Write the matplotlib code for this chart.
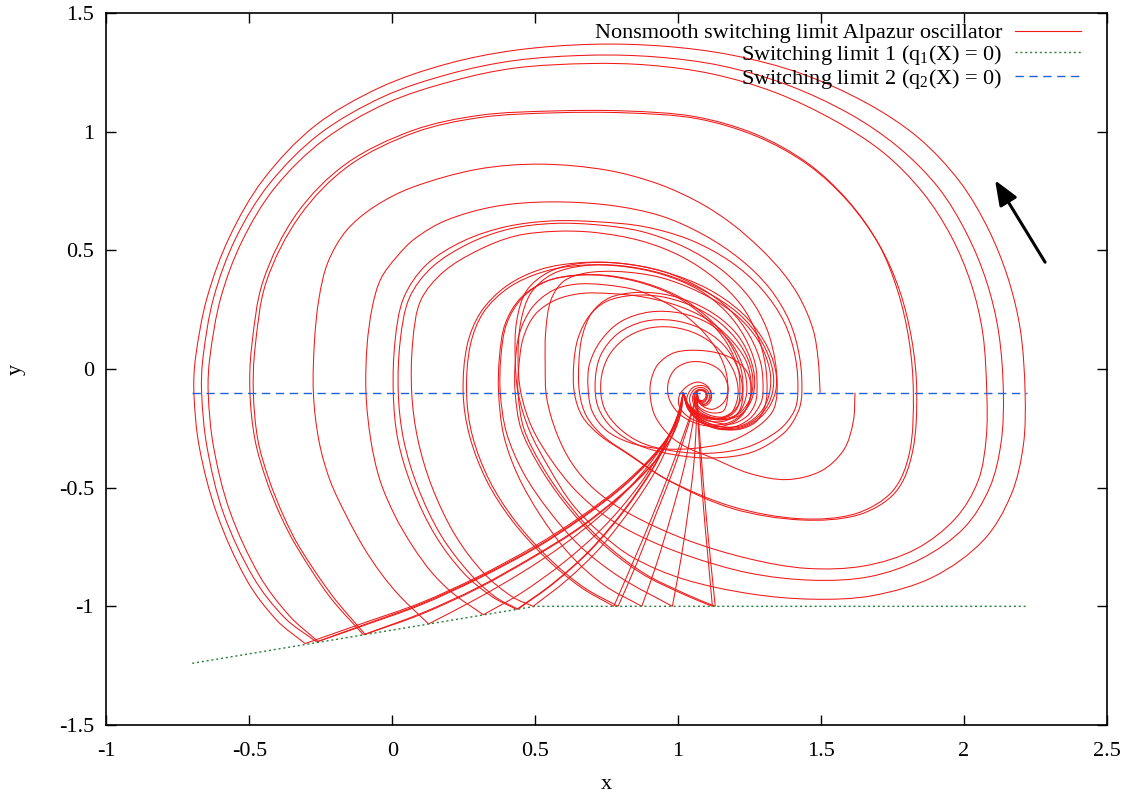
import numpy as np
import matplotlib
matplotlib.use("Agg")
import matplotlib.pyplot as plt
from matplotlib.path import Path
from matplotlib.patches import PathPatch
from matplotlib.lines import Line2D

plt.rcParams['font.family'] = ['Liberation Serif', 'DejaVu Serif']
plt.rcParams['mathtext.fontset'] = 'custom'
plt.rcParams['mathtext.rm'] = 'Liberation Serif'
plt.rcParams['mathtext.it'] = 'Liberation Serif:italic'
plt.rcParams['axes.unicode_minus'] = False

# --- outward spirals (subsystem B), from the return point to switching limit 1 ---
s1 = [(1.018,-0.10),(1.035,-0.17),(1.08,-0.225),(1.15,-0.255),(1.23,-0.245),(1.30,-0.19),(1.34,-0.10),(1.34,0.00),(1.30,0.12),(1.22,0.24),(1.10,0.34),(0.95,0.41),(0.80,0.445),(0.66,0.445),(0.55,0.41),(0.47,0.33),(0.435,0.20),(0.43,0.05),(0.44,-0.10),(0.48,-0.26),(0.55,-0.42),(0.63,-0.57),(0.727,-0.69),(0.843,-0.795),(1.018,-0.885),(1.252,-0.947),(1.473,-0.970),(1.68,-0.955),(1.893,-0.876),(2.068,-0.722),(2.165,-0.53),(2.208,-0.32),(2.214,-0.10),(2.198,0.16),(2.155,0.38),(2.085,0.59),(1.985,0.79),(1.84,0.975),(1.66,1.12),(1.43,1.245),(1.19,1.322),(0.95,1.36),(0.70,1.368),(0.43,1.343),(0.19,1.285),(-0.045,1.185),(-0.27,1.025),(-0.45,0.80),(-0.57,0.555),(-0.648,0.30),(-0.688,0.05),(-0.694,-0.10),(-0.675,-0.33),(-0.614,-0.609),(-0.509,-0.89),(-0.404,-1.059),(-0.305,-1.157)]
s2 = [(1.018,-0.10),(1.035,-0.165),(1.08,-0.22),(1.15,-0.25),(1.23,-0.24),(1.295,-0.185),(1.33,-0.10),(1.33,0.00),(1.29,0.12),(1.21,0.235),(1.09,0.33),(0.95,0.40),(0.80,0.435),(0.67,0.435),(0.56,0.40),(0.485,0.32),(0.45,0.20),(0.44,0.05),(0.45,-0.10),(0.49,-0.25),(0.56,-0.39),(0.64,-0.51),(0.74,-0.615),(0.86,-0.70),(1.03,-0.785),(1.25,-0.86),(1.47,-0.89),(1.67,-0.875),(1.85,-0.80),(2.00,-0.67),(2.09,-0.50),(2.13,-0.31),(2.138,-0.10),(2.122,0.15),(2.08,0.365),(2.01,0.57),(1.91,0.765),(1.77,0.935),(1.60,1.075),(1.38,1.198),(1.15,1.278),(0.92,1.315),(0.69,1.322),(0.43,1.30),(0.20,1.243),(-0.03,1.148),(-0.255,0.99),(-0.43,0.78),(-0.548,0.55),(-0.625,0.30),(-0.662,0.05),(-0.667,-0.10),(-0.648,-0.33),(-0.59,-0.61),(-0.485,-0.88),(-0.375,-1.05),(-0.265,-1.150)]
s3 = [(1.018,-0.10),(1.04,-0.16),(1.085,-0.215),(1.155,-0.245),(1.23,-0.235),(1.29,-0.18),(1.32,-0.10),(1.32,0.00),(1.28,0.12),(1.20,0.23),(1.08,0.32),(0.94,0.385),(0.80,0.41),(0.68,0.405),(0.60,0.37),(0.555,0.29),(0.537,0.16),(0.535,0.02),(0.54,-0.12),(0.575,-0.27),(0.63,-0.40),(0.71,-0.51),(0.83,-0.61),(1.03,-0.72),(1.25,-0.80),(1.45,-0.84),(1.65,-0.83),(1.83,-0.76),(1.97,-0.63),(2.05,-0.47),(2.078,-0.29),(2.08,-0.10),(2.066,0.15),(2.025,0.36),(1.955,0.56),(1.855,0.745),(1.72,0.91),(1.55,1.045),(1.34,1.165),(1.12,1.243),(0.90,1.28),(0.69,1.287),(0.43,1.268),(0.21,1.213),(-0.02,1.12),(-0.24,0.965),(-0.41,0.765),(-0.525,0.54),(-0.60,0.30),(-0.638,0.05),(-0.644,-0.10),(-0.625,-0.33),(-0.568,-0.60),(-0.465,-0.87),(-0.36,-1.04),(-0.26,-1.148)]
s4 = [(1.018,-0.10),(1.04,-0.155),(1.09,-0.195),(1.15,-0.21),(1.21,-0.19),(1.25,-0.13),(1.262,-0.05),(1.245,0.04),(1.20,0.13),(1.13,0.21),(1.04,0.27),(0.94,0.305),(0.84,0.31),(0.75,0.285),(0.69,0.225),(0.65,0.13),(0.635,0.02),(0.637,-0.10),(0.665,-0.20),(0.727,-0.28),(0.82,-0.355),(0.96,-0.465),(1.19,-0.58),(1.427,-0.631),(1.62,-0.61),(1.75,-0.515),(1.81,-0.35),(1.823,-0.10),(1.808,0.12),(1.768,0.33),(1.70,0.53),(1.59,0.715),(1.45,0.87),(1.27,0.99),(1.06,1.063),(0.82,1.087),(0.56,1.087),(0.307,1.069),(0.074,1.006),(-0.16,0.866),(-0.334,0.655),(-0.451,0.374),(-0.492,0.093),(-0.498,-0.10),(-0.48,-0.30),(-0.44,-0.47),(-0.39,-0.62),(-0.334,-0.75),(-0.218,-0.961),(-0.101,-1.12)]
s5 = [(1.018,-0.10),(1.04,-0.16),(1.09,-0.2),(1.15,-0.215),(1.215,-0.195),(1.255,-0.135),(1.268,-0.05),(1.252,0.045),(1.21,0.14),(1.14,0.22),(1.05,0.28),(0.95,0.315),(0.85,0.322),(0.76,0.30),(0.70,0.24),(0.665,0.14),(0.653,0.03),(0.655,-0.10),(0.68,-0.20),(0.74,-0.285),(0.83,-0.36),(0.97,-0.472),(1.19,-0.588),(1.43,-0.636),(1.63,-0.615),(1.76,-0.52),(1.82,-0.35),(1.835,-0.10),(1.818,0.12),(1.775,0.33),(1.705,0.52),(1.595,0.705),(1.455,0.86),(1.275,0.98),(1.065,1.055),(0.82,1.079),(0.56,1.079),(0.31,1.06),(0.08,0.997),(-0.15,0.858),(-0.322,0.648),(-0.44,0.37),(-0.48,0.09),(-0.486,-0.10),(-0.47,-0.30),(-0.43,-0.47),(-0.38,-0.62),(-0.325,-0.75),(-0.21,-0.955),(-0.095,-1.118)]
s6 = [(1.497,-0.10),(1.49,0.04),(1.473,0.163),(1.43,0.29),(1.37,0.40),(1.29,0.505),(1.19,0.61),(1.076,0.70),(0.93,0.78),(0.75,0.838),(0.52,0.863),(0.30,0.842),(0.074,0.767),(-0.06,0.686),(-0.16,0.584),(-0.225,0.45),(-0.256,0.30),(-0.272,0.12),(-0.276,-0.10),(-0.257,-0.30),(-0.218,-0.469),(-0.16,-0.62),(-0.101,-0.75),(-0.04,-0.86),(0.025,-0.955),(0.126,-1.073)]
s7 = [(1.018,-0.10),(1.04,-0.16),(1.09,-0.2),(1.15,-0.205),(1.20,-0.17),(1.225,-0.10),(1.21,0.0),(1.16,0.10),(1.08,0.17),(0.98,0.205),(0.88,0.20),(0.79,0.15),(0.73,0.06),(0.71,-0.05),(0.72,-0.16),(0.77,-0.25),(0.86,-0.32),(0.98,-0.36),(1.12,-0.375),(1.26,-0.35),(1.37,-0.27),(1.42,-0.18),(1.433,-0.10),(1.425,0.05),(1.39,0.20),(1.32,0.34),(1.22,0.46),(1.09,0.565),(0.94,0.645),(0.76,0.69),(0.55,0.704),(0.36,0.685),(0.19,0.627),(0.08,0.55),(0.015,0.472),(-0.04,0.38),(-0.07,0.26),(-0.088,0.10),(-0.092,-0.10),(-0.075,-0.30),(-0.043,-0.469),(0.01,-0.62),(0.073,-0.75),(0.14,-0.86),(0.213,-0.946),(0.318,-1.035)]
s8 = [(1.018,-0.10),(1.04,-0.165),(1.09,-0.205),(1.15,-0.21),(1.19,-0.18),(1.21,-0.10),(1.195,-0.01),(1.145,0.08),(1.07,0.145),(0.98,0.176),(0.89,0.17),(0.81,0.125),(0.755,0.05),(0.73,-0.05),(0.74,-0.16),(0.79,-0.245),(0.87,-0.31),(0.98,-0.345),(1.11,-0.355),(1.24,-0.33),(1.35,-0.26),(1.405,-0.18),(1.419,-0.10),(1.41,0.05),(1.37,0.20),(1.29,0.34),(1.18,0.455),(1.04,0.545),(0.88,0.60),(0.72,0.62),(0.56,0.624),(0.40,0.60),(0.25,0.54),(0.12,0.44),(0.04,0.30),(0.01,0.12),(0.0035,-0.10),(0.02,-0.30),(0.07,-0.50),(0.15,-0.70),(0.25,-0.86),(0.35,-0.96),(0.435,-1.013)]
s9 = [(1.018,-0.10),(1.04,-0.17),(1.095,-0.215),(1.16,-0.22),(1.215,-0.18),(1.24,-0.10),(1.23,0.00),(1.185,0.11),(1.11,0.19),(1.01,0.235),(0.90,0.24),(0.80,0.20),(0.73,0.12),(0.69,0.02),(0.685,-0.08),(0.70,-0.18),(0.75,-0.26),(0.83,-0.31),(0.93,-0.335),(1.05,-0.335),(1.17,-0.31),(1.27,-0.25),(1.33,-0.18),(1.346,-0.10),(1.34,0.03),(1.31,0.17),(1.25,0.30),(1.15,0.42),(1.02,0.515),(0.87,0.58),(0.71,0.608),(0.56,0.613),(0.41,0.59),(0.27,0.53),(0.14,0.43),(0.06,0.30),(0.028,0.12),(0.021,-0.10),(0.04,-0.30),(0.09,-0.50),(0.17,-0.70),(0.27,-0.86),(0.36,-0.96),(0.44,-1.012)]
s10 = [(1.018,-0.10),(1.035,-0.165),(1.08,-0.22),(1.14,-0.25),(1.21,-0.255),(1.27,-0.225),(1.30,-0.17),(1.311,-0.10),(1.305,0.02),(1.275,0.15),(1.22,0.27),(1.13,0.38),(1.01,0.475),(0.87,0.54),(0.71,0.575),(0.57,0.58),(0.43,0.56),(0.30,0.50),(0.18,0.41),(0.10,0.29),(0.072,0.12),(0.068,-0.10),(0.09,-0.30),(0.14,-0.50),(0.22,-0.70),(0.32,-0.86),(0.42,-0.96),(0.493,-1.0)]
m1 = [(1.066,-0.10),(1.072,-0.14),(1.095,-0.155),(1.115,-0.13),(1.112,-0.09),(1.085,-0.07),(1.05,-0.08),(1.03,-0.13),(1.05,-0.19),(1.11,-0.23),(1.19,-0.245),(1.25,-0.21),(1.287,-0.15),(1.297,-0.10),(1.29,0.02),(1.25,0.14),(1.18,0.25),(1.08,0.34),(0.95,0.41),(0.80,0.445),(0.66,0.448),(0.52,0.42),(0.40,0.35),(0.31,0.24),(0.262,0.10),(0.248,-0.10),(0.27,-0.28),(0.33,-0.47),(0.42,-0.64),(0.54,-0.80),(0.66,-0.92),(0.775,-1.0)]
m2 = [(1.066,-0.10),(1.075,-0.135),(1.092,-0.148),(1.108,-0.128),(1.105,-0.095),(1.083,-0.078),(1.055,-0.088),(1.04,-0.13),(1.06,-0.185),(1.115,-0.22),(1.185,-0.232),(1.24,-0.20),(1.268,-0.15),(1.276,-0.10),(1.27,0.02),(1.23,0.14),(1.165,0.245),(1.07,0.335),(0.94,0.40),(0.80,0.433),(0.66,0.437),(0.53,0.41),(0.41,0.345),(0.32,0.24),(0.273,0.10),(0.26,-0.10),(0.28,-0.28),(0.34,-0.47),(0.43,-0.64),(0.55,-0.80),(0.67,-0.92),(0.79,-1.0)]
m3 = [(1.066,-0.10),(1.07,-0.13),(1.09,-0.14),(1.102,-0.12),(1.098,-0.095),(1.08,-0.085),(1.06,-0.095),(1.05,-0.13),(1.07,-0.175),(1.12,-0.205),(1.18,-0.21),(1.215,-0.175),(1.227,-0.10),(1.22,0.00),(1.18,0.11),(1.11,0.21),(1.01,0.30),(0.89,0.36),(0.76,0.393),(0.65,0.395),(0.54,0.37),(0.45,0.30),(0.395,0.19),(0.375,0.05),(0.372,-0.10),(0.39,-0.28),(0.44,-0.45),(0.52,-0.62),(0.62,-0.78),(0.74,-0.91),(0.873,-1.0)]
m4 = [(1.066,-0.10),(1.07,-0.128),(1.088,-0.138),(1.1,-0.12),(1.096,-0.097),(1.08,-0.088),(1.062,-0.097),(1.055,-0.13),(1.075,-0.17),(1.12,-0.198),(1.175,-0.2),(1.207,-0.165),(1.216,-0.10),(1.21,0.00),(1.17,0.11),(1.10,0.21),(1.00,0.30),(0.88,0.36),(0.75,0.392),(0.64,0.395),(0.54,0.37),(0.455,0.30),(0.40,0.19),(0.38,0.05),(0.378,-0.10),(0.40,-0.27),(0.46,-0.44),(0.55,-0.60),(0.66,-0.75),(0.80,-0.88),(0.98,-1.0)]
m5 = [(1.066,-0.10),(1.068,-0.125),(1.085,-0.133),(1.097,-0.118),(1.094,-0.098),(1.078,-0.09),(1.063,-0.1),(1.058,-0.13),(1.078,-0.165),(1.12,-0.185),(1.16,-0.175),(1.174,-0.10),(1.165,0.00),(1.125,0.10),(1.06,0.19),(0.97,0.27),(0.86,0.33),(0.74,0.355),(0.64,0.357),(0.56,0.33),(0.49,0.26),(0.445,0.15),(0.43,0.02),(0.43,-0.10),(0.45,-0.25),(0.51,-0.40),(0.60,-0.56),(0.72,-0.72),(0.87,-0.86),(1.02,-0.95),(1.12,-1.0)]
m6 = [(1.066,-0.10),(1.08,-0.15),(1.12,-0.17),(1.16,-0.14),(1.175,-0.08),(1.15,-0.01),(1.10,0.025),(1.04,0.029),(0.99,0.0),(0.965,-0.06),(0.97,-0.13),(1.01,-0.195),(1.08,-0.235),(1.16,-0.24),(1.22,-0.2),(1.25,-0.13),(1.255,-0.05),(1.235,0.04),(1.18,0.13),(1.10,0.21),(0.99,0.27),(0.87,0.305),(0.76,0.318),(0.66,0.318),(0.57,0.29),(0.50,0.23),(0.458,0.13),(0.442,0.00),(0.44,-0.10),(0.46,-0.25),(0.52,-0.40),(0.61,-0.56),(0.73,-0.72),(0.88,-0.86),(1.03,-0.95),(1.13,-1.0)]
s_end = [(1.066,-0.10),(1.07,-0.135),(1.09,-0.15),(1.11,-0.13),(1.115,-0.10),(1.10,-0.07),(1.07,-0.055),(1.035,-0.07),(1.005,-0.11),(1.005,-0.16),(1.04,-0.205),(1.11,-0.235),(1.18,-0.225),(1.235,-0.175),(1.255,-0.10),(1.24,-0.01),(1.18,0.05),(1.09,0.077),(0.99,0.07),(0.93,0.02),(0.905,-0.05),(0.903,-0.12),(0.92,-0.2),(0.97,-0.28),(1.03,-0.33),(1.112,-0.371),(1.25,-0.44),(1.38,-0.466),(1.50,-0.43),(1.58,-0.34),(1.613,-0.22),(1.619,-0.10)]

# --- return paths (subsystem A), from switching limit 1 back up to y = -0.1 ---
a_h1 = [(-0.305,-1.157),(-0.1,-1.07),(0.1,-0.985),(0.3,-0.875),(0.5,-0.745),(0.657,-0.624),(0.797,-0.497),(0.90,-0.38),(0.972,-0.272),(1.005,-0.18),(1.018,-0.10)]
a_h2 = [(-0.265,-1.150),(-0.1,-1.078),(0.1,-0.99),(0.3,-0.88),(0.5,-0.752),(0.657,-0.63),(0.797,-0.503),(0.90,-0.385),(0.972,-0.275),(1.005,-0.182),(1.018,-0.10)]
a_h2b = [(-0.26,-1.148),(-0.1,-1.081),(0.1,-0.994),(0.3,-0.884),(0.5,-0.756),(0.657,-0.634),(0.797,-0.507),(0.90,-0.388),(0.972,-0.277),(1.005,-0.183),(1.018,-0.10)]
a_h3 = [(-0.101,-1.12),(0.1,-1.03),(0.3,-0.92),(0.5,-0.785),(0.657,-0.666),(0.80,-0.53),(0.91,-0.40),(0.975,-0.29),(1.008,-0.19),(1.018,-0.10)]
a_h3b = [(-0.095,-1.118),(0.1,-1.034),(0.3,-0.924),(0.5,-0.789),(0.657,-0.67),(0.80,-0.534),(0.91,-0.403),(0.975,-0.292),(1.008,-0.191),(1.018,-0.10)]
a_h4 = [(0.126,-1.075),(0.3,-0.965),(0.45,-0.86),(0.6,-0.74),(0.75,-0.595),(0.87,-0.445),(0.955,-0.305),(1.0,-0.195),(1.018,-0.10)]
a_h5 = [(0.318,-1.036),(0.45,-0.945),(0.6,-0.815),(0.74,-0.665),(0.86,-0.495),(0.945,-0.335),(0.995,-0.205),(1.018,-0.10)]
a_h6 = [(0.435,-1.013),(0.56,-0.905),(0.69,-0.765),(0.81,-0.595),(0.91,-0.42),(0.975,-0.265),(1.008,-0.165),(1.018,-0.10)]
a_h6b = [(0.44,-1.012),(0.565,-0.903),(0.695,-0.762),(0.815,-0.592),(0.913,-0.418),(0.977,-0.264),(1.009,-0.165),(1.018,-0.10)]
a_h7 = [(0.493,-1.0),(0.61,-0.89),(0.73,-0.75),(0.84,-0.58),(0.93,-0.41),(0.985,-0.26),(1.01,-0.16),(1.018,-0.10)]
a_r1 = [(0.775,-1.0),(0.84,-0.82),(0.91,-0.62),(0.975,-0.42),(1.03,-0.24),(1.055,-0.15),(1.066,-0.10)]
a_r2 = [(0.79,-1.0),(0.855,-0.82),(0.92,-0.62),(0.985,-0.42),(1.035,-0.24),(1.057,-0.15),(1.066,-0.10)]
a_r3 = [(0.873,-1.0),(0.925,-0.82),(0.975,-0.62),(1.02,-0.42),(1.05,-0.24),(1.062,-0.15),(1.066,-0.10)]
a_r4 = [(0.98,-1.0),(1.01,-0.80),(1.035,-0.60),(1.055,-0.40),(1.064,-0.22),(1.066,-0.10)]
a_r5 = [(1.12,-1.0),(1.105,-0.80),(1.09,-0.60),(1.078,-0.40),(1.07,-0.22),(1.066,-0.10)]
a_r6 = [(1.13,-1.0),(1.113,-0.80),(1.097,-0.60),(1.083,-0.40),(1.072,-0.22),(1.066,-0.10)]

pieces = [s6, a_h4, s1, a_h1, s2, a_h2, s3, a_h2b, s4, a_h3, s5, a_h3b,
          s7, a_h5, s8, a_h6, s9, a_h6b, s10, a_h7,
          m1, a_r1, m2, a_r2, m3, a_r3, m4, a_r4, m5, a_r5, m6, a_r6, s_end]

# switching limits
limit1_x = [-0.7, 0.5, 2.22]
limit1_y = [-1.24, -1.0, -1.0]
limit2_x = [-0.7, 2.22]
limit2_y = [-0.1, -0.1]

RED = '#f01818'
GREEN = '#2f7f3a'
BLUE = '#1f62d0'
FS = 16


def smooth_path(pts):
    # cubic bezier through the traced points (chord-length catmull-rom tangents)
    p = np.asarray(pts, dtype=float)
    d = np.hypot(*np.diff(p, axis=0).T)
    tang = np.zeros_like(p)
    tang[0] = (p[1] - p[0]) / d[0]
    tang[-1] = (p[-1] - p[-2]) / d[-1]
    for i in range(1, len(p) - 1):
        tang[i] = (p[i + 1] - p[i - 1]) / (d[i - 1] + d[i])
    verts = [p[0]]
    codes = [Path.MOVETO]
    for i in range(len(p) - 1):
        verts += [p[i] + tang[i] * d[i] / 3, p[i + 1] - tang[i + 1] * d[i] / 3, p[i + 1]]
        codes += [Path.CURVE4] * 3
    return Path(verts, codes)


fig = plt.figure(figsize=(11.3, 7.96), dpi=100)
ax = fig.add_axes([0.0942, 0.0892, 0.8853, 0.8945])

for seg in pieces:
    ax.add_patch(PathPatch(smooth_path(seg), fill=False, edgecolor=RED, lw=0.75))

ax.plot(limit1_x, limit1_y, color=GREEN, lw=1.0, dashes=(1.5, 2.0))
ax.plot(limit2_x, limit2_y, color=BLUE, lw=1.0, dashes=(6, 4))

ax.annotate('', xy=(2.109, 0.795), xytext=(2.284, 0.45),
            arrowprops=dict(arrowstyle='-|>,head_length=1.5,head_width=0.6',
                            color='black', lw=2.2, shrinkA=0, shrinkB=0))

ax.set_xlim(-1, 2.5)
ax.set_ylim(-1.5, 1.5)
ax.set_xticks([-1, -0.5, 0, 0.5, 1, 1.5, 2, 2.5])
ax.set_xticklabels(['-1', '-0.5', '0', '0.5', '1', '1.5', '2', '2.5'])
ax.set_yticks([-1.5, -1, -0.5, 0, 0.5, 1, 1.5])
ax.set_yticklabels(['-1.5', '-1', '-0.5', '0', '0.5', '1', '1.5'])
ax.tick_params(direction='in', length=7, width=1, top=True, right=True,
               labelsize=FS)
ax.tick_params(axis='x', pad=12)
ax.tick_params(axis='y', pad=9)
for sp in ax.spines.values():
    sp.set_linewidth(1.2)
ax.set_xlabel('x', fontsize=FS, labelpad=10)
ax.set_ylabel('y', fontsize=FS, labelpad=24)

handles = [Line2D([], [], color=RED, lw=0.8),
           Line2D([], [], color=GREEN, lw=1.0, dashes=(1.5, 2.0)),
           Line2D([], [], color=BLUE, lw=1.0, dashes=(6, 4))]
labels = ['Nonsmooth switching limit Alpazur oscillator',
          'Switching limit 1 (q$_1$(X) = 0)',
          'Switching limit 2 (q$_2$(X) = 0)']
ax.legend(handles, labels, loc='upper right', frameon=False, markerfirst=False,
          fontsize=FS, handlelength=3.0, handletextpad=0.55, labelspacing=-0.02,
          borderaxespad=0.3, bbox_to_anchor=(0.99, 1.008))

fig.savefig('out.png', dpi=100)
